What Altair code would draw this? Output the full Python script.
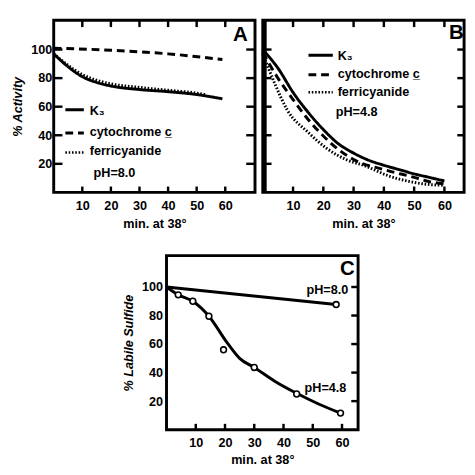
import altair as alt
import pandas as pd

# ---------------- data ----------------
# Panel A (pH 8.0)
a_k3_t = [0, 5, 10, 15, 20, 30, 40, 50, 59]
a_k3_v = [97, 88, 81, 77, 74.5, 72, 70.5, 68.5, 65.5]
a_cyt_t = [0, 20, 40, 59]
a_cyt_v = [101, 99.5, 97, 93]
a_fer_t = [0, 5, 10, 15, 20, 30, 40, 50, 53]
a_fer_v = [97, 89, 82.5, 78.5, 76, 73.5, 71.5, 69.5, 68.5]

# Panel B (pH 4.8)
b_k3_t = [0, 5, 10, 15, 20, 25, 30, 35, 40, 45, 50, 55, 60]
b_k3_v = [100, 87, 70, 56, 44, 34, 27.5, 22.5, 19, 16, 13, 10.5, 8]
b_cyt_t = [0, 5, 10, 15, 20, 25, 30, 40, 50, 55, 60]
b_cyt_v = [98, 80, 65, 51, 39.5, 30, 23, 16, 10.5, 7.5, 6]
b_fer_t = [0, 4, 8, 15, 21, 27.5, 34, 41.5, 50, 55, 60]
b_fer_v = [97, 76, 58, 42, 31, 23, 18.4, 11.6, 7, 5.5, 5]

# Panel C (labile sulfide)
c_ph8_t = [0, 58]
c_ph8_v = [100, 87.7]
c_ph8_pts_t = [58]
c_ph8_pts_v = [87.7]
c_ph48_pts_t = [4, 9, 14.5, 19.5, 30, 44.5, 59.5]
c_ph48_pts_v = [94.5, 90, 79.5, 56, 43.6, 25, 11.6]
c_ph48_curve_t = [0, 4, 9, 14.5, 20.7, 25, 30, 37, 44.5, 52, 59.5]
c_ph48_curve_v = [100, 94.5, 90, 79.5, 61, 50, 43.6, 34, 25.5, 18, 11.6]

series = ["K₃", "cytochrome c̲", "ferricyanide"]
x_ticks = [10, 20, 30, 40, 50, 60]
y_ticks = [20, 40, 60, 80, 100]
x_title = "min. at 38°"

FONT = "Liberation Sans"
H = 177
W_A = 207
W_B = 207
W_C = 197
H_C = 179
DASH = {series[0]: [1, 0], series[1]: [8, 5], series[2]: [1.6, 1.8]}
SW = {series[0]: 3, series[1]: 3, series[2]: 2.6}


def long_df(parts):
    rows = []
    for name, ts, vs in parts:
        for t, v in zip(ts, vs):
            rows.append({"x": t, "y": v, "s": name})
    return pd.DataFrame(rows)


def ax_x(label_pad=8):
    return alt.Axis(values=x_ticks, title=x_title, labelPadding=label_pad, titlePadding=5,
                    ticks=False, domain=False, grid=False)


def ax_y(title="", labels=True, label_pad=2):
    return alt.Axis(values=y_ticks, title=title, labels=labels, labelPadding=label_pad, titlePadding=6,
                    titleFontStyle="italic", ticks=False, domain=False, grid=False, minExtent=0)


class Panel:
    def __init__(self, xd, yd, w, h, xa, ya):
        self.xd, self.yd, self.w, self.h = xd, yd, w, h
        self.xs = alt.Scale(domain=xd, nice=False, zero=False)
        self.ys = alt.Scale(domain=yd, nice=False, zero=False)
        self.xa, self.ya = xa, ya

    def X(self, field="x"):
        return alt.X(field + ":Q", scale=self.xs, axis=self.xa)

    def Y(self, field="y"):
        return alt.Y(field + ":Q", scale=self.ys, axis=self.ya)

    def ticks(self, bottom=0, top=0, left=0, right=0, left_out=0):
        """inward tick marks; lengths in pixels, converted into data units"""
        ux = (self.xd[1] - self.xd[0]) / self.w
        uy = (self.yd[1] - self.yd[0]) / self.h
        out = []
        rule = dict(color="black", strokeWidth=2.5)
        for length, at_top in ((bottom, False), (top, True)):
            if length:
                y0 = self.yd[1] - length * uy if at_top else self.yd[0]
                df = pd.DataFrame({"x": x_ticks, "y": y0, "y2": y0 + length * uy})
                out.append(alt.Chart(df).mark_rule(**rule).encode(
                    x=self.X(), y=self.Y(), y2="y2:Q"))
        for length, at_right in ((left, False), (right, True)):
            if length:
                x0 = self.xd[1] - length * ux if at_right else self.xd[0]
                df = pd.DataFrame({"y": y_ticks, "x": x0, "x2": x0 + length * ux})
                out.append(alt.Chart(df).mark_rule(**rule).encode(
                    y=self.Y(), x=self.X(), x2="x2:Q"))
        return out

    def curves(self, df):
        return alt.Chart(df).mark_line(color="black", interpolate="monotone").encode(
            x=self.X(), y=self.Y(),
            strokeDash=alt.StrokeDash("s:N", scale=alt.Scale(domain=series, range=[DASH[s] for s in series]),
                                      legend=None),
            strokeWidth=alt.StrokeWidth("s:N", scale=alt.Scale(domain=series, range=[SW[s] for s in series]),
                                        legend=None),
        )


def text(label, x, y, size=13, align="left", weight="bold"):
    return alt.Chart(pd.DataFrame({"t": [label]})).mark_text(
        font=FONT, fontSize=size, fontWeight=weight, align=align, baseline="middle", color="black"
    ).encode(text="t:N", x=alt.value(x), y=alt.value(y))


def sample(name, x1, x2, y):
    return alt.Chart(pd.DataFrame({"s": [name]})).mark_rule(color="black").encode(
        x=alt.value(x1), x2=alt.value(x2), y=alt.value(y),
        strokeDash=alt.value(DASH[name]), strokeWidth=alt.value(SW[name]))


# ---------------- Panel A ----------------
pA = Panel([0, 70.4], [0, 120.5], W_A, H, ax_x(), ax_y("% Activity"))
dfA = long_df([(series[0], a_k3_t, a_k3_v), (series[1], a_cyt_t, a_cyt_v), (series[2], a_fer_t, a_fer_v)])
panelA = alt.layer(
    pA.curves(dfA),
    *pA.ticks(bottom=6, top=7, left=9, right=9),
    sample(series[0], 12, 31, 92), sample(series[1], 12, 31, 116), sample(series[2], 12, 31, 136),
    text(series[0], 37, 93), text(series[1], 37, 115), text(series[2], 37, 135),
    text("pH=8.0", 41, 157), text("A", 192, 15, size=21, align="center"),
).properties(width=W_A, height=H)

# ---------------- Panel B ----------------
pB = Panel([0, 66.5], [0, 120.5], W_B, H, ax_x(), ax_y("", labels=False))
dfB = long_df([(series[0], b_k3_t, b_k3_v), (series[1], b_cyt_t, b_cyt_v), (series[2], b_fer_t, b_fer_v)])
panelB = alt.layer(
    pB.curves(dfB),
    *pB.ticks(bottom=6, top=7, left=9, right=7),
    alt.Chart(pd.DataFrame({"v": [0]})).mark_rule(color="black", strokeWidth=4).encode(
        x=alt.value(2), y=alt.value(0), y2=alt.value(H)),
    sample(series[0], 47, 72, 36), sample(series[1], 47, 72, 56), sample(series[2], 47, 72, 74),
    text(series[0], 77, 37), text(series[1], 77, 55), text(series[2], 77, 74),
    text("pH=4.8", 75, 94), text("B", 199, 13, size=21, align="center"),
).properties(width=W_B, height=H)

# ---------------- Panel C ----------------
pC = Panel([0, 65.5], [0, 122], W_C, H_C, ax_x(label_pad=7), ax_y("% Labile Sulfide", label_pad=4))
df8 = pd.DataFrame({"x": c_ph8_t, "y": c_ph8_v})
df48 = pd.DataFrame({"x": c_ph48_curve_t, "y": c_ph48_curve_v})
pts = pd.DataFrame({"x": c_ph8_pts_t + c_ph48_pts_t, "y": c_ph8_pts_v + c_ph48_pts_v})
panelC = alt.layer(
    alt.Chart(df8).mark_line(color="black", strokeWidth=3).encode(x=pC.X(), y=pC.Y()),
    alt.Chart(df48).mark_line(color="black", strokeWidth=3, interpolate="monotone").encode(
        x=pC.X(), y=pC.Y()),
    alt.Chart(pts).mark_point(shape="circle", size=36, filled=True, fill="white", stroke="black",
                              strokeWidth=1.6, opacity=1).encode(x=pC.X(), y=pC.Y()),
    *pC.ticks(bottom=6, right=7),
    text("pH=8.0", 144, 35), text("pH=4.8", 142, 136), text("C", 186, 14, size=21, align="center"),
).properties(width=W_C, height=H_C)

spacer = alt.Chart(pd.DataFrame({"v": [0]})).mark_point(opacity=0).encode(
    x=alt.value(0), y=alt.value(0)).properties(
        width=69, height=20, view=alt.ViewBackground(strokeOpacity=0, strokeWidth=0))

top = alt.hconcat(panelA, panelB, spacing=-3)
bottom = alt.hconcat(spacer, panelC, spacing=0)
chart = alt.vconcat(top, bottom, spacing=21).properties(
    padding={"left": 2, "top": 2, "right": 0, "bottom": 0}
).configure_view(stroke="black", strokeWidth=3).configure_axis(
    labelFont=FONT, labelFontSize=13, labelFontWeight="bold", labelColor="black",
    titleFont=FONT, titleFontSize=13, titleFontWeight="bold", titleColor="black",
)

chart.save("out.html", embed_options={"renderer": "svg", "actions": False})
